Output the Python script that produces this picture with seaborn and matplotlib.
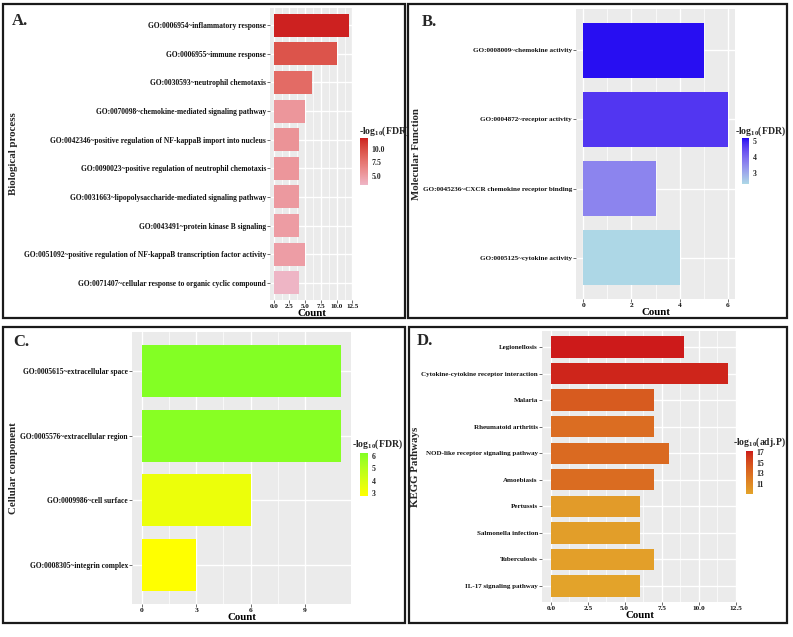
# GO / KEGG enrichment overview, four panels (ggplot-like look with seaborn)
import numpy as np
import matplotlib
matplotlib.use("Agg")
import matplotlib.pyplot as plt
import matplotlib.colors as mcolors
from matplotlib.cm import ScalarMappable
from matplotlib.patches import Rectangle
import seaborn as sns

# ---- data ----
bp_terms = ["GO:0006954~inflammatory response",
            "GO:0006955~immune response",
            "GO:0030593~neutrophil chemotaxis",
            "GO:0070098~chemokine-mediated signaling pathway",
            "GO:0042346~positive regulation of NF-kappaB import into nucleus",
            "GO:0090023~positive regulation of neutrophil chemotaxis",
            "GO:0031663~lipopolysaccharide-mediated signaling pathway",
            "GO:0043491~protein kinase B signaling",
            "GO:0051092~positive regulation of NF-kappaB transcription factor activity",
            "GO:0071407~cellular response to organic cyclic compound"]
bp_count = [12, 10, 6, 5, 4, 4, 4, 4, 5, 4]
bp_fdr = [12.0, 9.6, 8.2, 5.4, 5.6, 5.4, 5.2, 5.0, 4.9, 3.3]

mf_terms = ["GO:0008009~chemokine activity",
            "GO:0004872~receptor activity",
            "GO:0045236~CXCR chemokine receptor binding",
            "GO:0005125~cytokine activity"]
mf_count = [5, 6, 3, 4]
mf_fdr = [5.15, 4.75, 3.6, 2.3]

cc_terms = ["GO:0005615~extracellular space",
            "GO:0005576~extracellular region",
            "GO:0009986~cell surface",
            "GO:0008305~integrin complex"]
cc_count = [11, 11, 6, 3]
cc_fdr = [6.2, 6.1, 3.4, 2.8]

kegg_terms = ["Legionellosis", "Cytokine-cytokine receptor interaction", "Malaria",
              "Rheumatoid arthritis", "NOD-like receptor signaling pathway", "Amoebiasis",
              "Pertussis", "Salmonella infection", "Tuberculosis", "IL-17 signaling pathway"]
kegg_count = [9, 12, 7, 7, 8, 7, 6, 6, 7, 6]
kegg_padj = [17.1, 16.8, 14.2, 13.0, 13.2, 13.1, 9.8, 9.6, 9.5, 9.2]

W, H = 793, 637


def px_box(x0, y0, x1, y1):
    # pixel box (top-left origin) -> figure fraction rect
    return [x0 / W, 1 - y1 / H, (x1 - x0) / W, (y1 - y0) / H]


# ggplot interpolates gradients in Lab space, so do the same here
WHITE = np.array([0.95047, 1.0, 1.08883])
M = np.array([[0.4124, 0.3576, 0.1805],
              [0.2126, 0.7152, 0.0722],
              [0.0193, 0.1192, 0.9505]])


def to_lab(c):
    rgb = np.array(mcolors.to_rgb(c))
    lin = np.where(rgb <= 0.04045, rgb / 12.92, ((rgb + 0.055) / 1.055) ** 2.4)
    xyz = M @ lin / WHITE
    f = np.where(xyz > 0.008856, np.cbrt(xyz), 7.787 * xyz + 16 / 116)
    return np.array([116 * f[1] - 16, 500 * (f[0] - f[1]), 200 * (f[1] - f[2])])


def from_lab(lab):
    fy = (lab[0] + 16) / 116
    f = np.array([fy + lab[1] / 500, fy, fy - lab[2] / 200])
    xyz = np.where(f ** 3 > 0.008856, f ** 3, (f - 16 / 116) / 7.787) * WHITE
    lin = np.clip(np.linalg.solve(M, xyz), 0, 1)
    rgb = np.where(lin <= 0.0031308, 12.92 * lin, 1.055 * lin ** (1 / 2.4) - 0.055)
    return np.clip(rgb, 0, 1)


def lab_cmap(low, high, n=256):
    a, b = to_lab(low), to_lab(high)
    cols = [from_lab(a + (b - a) * t) for t in np.linspace(0, 1, n)]
    return mcolors.ListedColormap(cols)


sns.set_style("darkgrid", {"axes.facecolor": "#EBEBEB", "grid.color": "white"})
plt.rcParams["font.family"] = ["Liberation Serif", "DejaVu Serif"]
plt.rcParams["font.weight"] = "bold"
plt.rcParams["mathtext.fontset"] = "custom"
plt.rcParams["mathtext.rm"] = "Liberation Serif:bold"
plt.rcParams["mathtext.it"] = "Liberation Serif:bold"
plt.rcParams["mathtext.bf"] = "Liberation Serif:bold"

fig = plt.figure(figsize=(W / 100, H / 100), dpi=100)

panels = [
    dict(terms=bp_terms, count=bp_count, val=bp_fdr, low="#EEB6C6", high="#CD1F1F",
         clim=(3.24, 12.08), cticks=[5, 7.5, 10], clab=["5.0", "7.5", "10.0"],
         xticks=[0, 2.5, 5, 7.5, 10, 12.5], xlab=["0.0", "2.5", "5.0", "7.5", "10.0", "12.5"],
         ylab="Biological process", letter="A.", ltitle="-log$_{10}$(FDR)",
         border=(3, 4, 405, 318), ax=(270, 8, 353, 300), fs=5.45, xfs=5.0, ylx=14,
         cax=(360, 138, 368, 185), tx=359, ty=131.5, lx=12, ly=21),
    dict(terms=mf_terms, count=mf_count, val=mf_fdr, low="lightblue", high="#1A00F2",
         clim=(2.28, 5.22), cticks=[3, 4, 5], clab=["3", "4", "5"],
         xticks=[0, 2, 4, 6], xlab=["0", "2", "4", "6"],
         ylab="Molecular Function", letter="B.", ltitle="-log$_{10}$(FDR)",
         border=(408, 4, 787, 318), ax=(576, 9, 735, 299), fs=5.1, xfs=5.4, ylx=417,
         cax=(742, 138, 749, 184), tx=735, ty=131.5, lx=422, ly=22),
    dict(terms=cc_terms, count=cc_count, val=cc_fdr, low="yellow", high="#82FF24",
         clim=(2.78, 6.24), cticks=[3, 4, 5, 6], clab=["3", "4", "5", "6"],
         xticks=[0, 3, 6, 9], xlab=["0", "3", "6", "9"],
         ylab="Cellular component", letter="C.", ltitle="-log$_{10}$(FDR)",
         border=(3, 327, 405, 623), ax=(132, 332, 351, 604), fs=5.45, xfs=5.4, ylx=14,
         cax=(360, 453, 368, 496), tx=352, ty=444, lx=13, ly=342),
    dict(terms=kegg_terms, count=kegg_count, val=kegg_padj, low="#E3A32A", high="#CD1A1A",
         clim=(9.17, 17.13), cticks=[11, 13, 15, 17], clab=["11", "13", "15", "17"],
         xticks=[0, 2.5, 5, 7.5, 10, 12.5], xlab=["0.0", "2.5", "5.0", "7.5", "10.0", "12.5"],
         ylab="KEGG Pathways", letter="D.", ltitle="-log$_{10}$(adj.P)",
         border=(409, 327, 787, 623), ax=(542, 331, 737, 602), fs=5.0, xfs=5.2, ylx=416,
         cax=(746, 451, 753, 494), tx=733, ty=442, lx=417, ly=341),
]

for p in panels:
    x0, y0, x1, y1 = p["border"]
    fig.patches.append(Rectangle((x0 / W, 1 - y1 / H), (x1 - x0) / W, (y1 - y0) / H,
                                 transform=fig.transFigure, fill=False,
                                 edgecolor="#1A1A1A", linewidth=1.6))

    cmap = lab_cmap(p["low"], p["high"])
    ax = fig.add_axes(px_box(*p["ax"]))
    sns.barplot(x=p["count"], y=p["terms"], hue=p["val"], palette=cmap,
                hue_norm=p["clim"], dodge=False, saturation=1, width=0.8,
                legend=False, linewidth=0, ax=ax)

    n = len(p["terms"])
    xmax = max(p["count"])
    ax.set_xlim(-0.05 * xmax, 1.05 * xmax)
    ax.set_ylim(n - 1 + 0.6, -0.6)
    ax.set_xticks(p["xticks"])
    ax.set_xticklabels(p["xlab"])
    step = p["xticks"][1] - p["xticks"][0]
    ax.set_xticks([t + step / 2 for t in p["xticks"][:-1]], minor=True)
    ax.set_axisbelow(True)
    ax.grid(which="major", color="white", linewidth=1.0)
    ax.grid(which="minor", axis="x", color="white", linewidth=0.5)
    ax.tick_params(which="major", bottom=True, left=True, length=2, width=0.5,
                   color="#333333", pad=1, labelcolor="#111111")
    ax.tick_params(axis="y", labelsize=p["fs"])
    ax.tick_params(axis="x", labelsize=p["xfs"])
    ax.tick_params(which="minor", length=0)
    for s in ax.spines.values():
        s.set_visible(False)
    ax.set_ylabel("")
    ax.set_xlabel("Count", fontsize=7.8, fontweight="bold", labelpad=0, color="black")

    fig.text(p["ylx"] / W, 1 - (p["ax"][1] + p["ax"][3]) / 2 / H, p["ylab"],
             rotation=90, ha="center", va="center", fontsize=7.8, fontweight="bold")
    fig.text(p["lx"] / W, 1 - p["ly"] / H, p["letter"], ha="left", va="center",
             fontsize=12, fontweight="bold")

    cax = fig.add_axes(px_box(*p["cax"]))
    sm = ScalarMappable(norm=mcolors.Normalize(*p["clim"]), cmap=cmap)
    cb = fig.colorbar(sm, cax=cax)
    cb.outline.set_visible(False)
    cb.set_ticks(p["cticks"])
    cb.set_ticklabels(p["clab"])
    cax.tick_params(length=0, pad=2.5, labelsize=5.6)
    fig.text(p["tx"] / W, 1 - p["ty"] / H, p["ltitle"], ha="left", va="center",
             fontsize=7, fontweight="bold")

fig.savefig("out.png", dpi=100)
